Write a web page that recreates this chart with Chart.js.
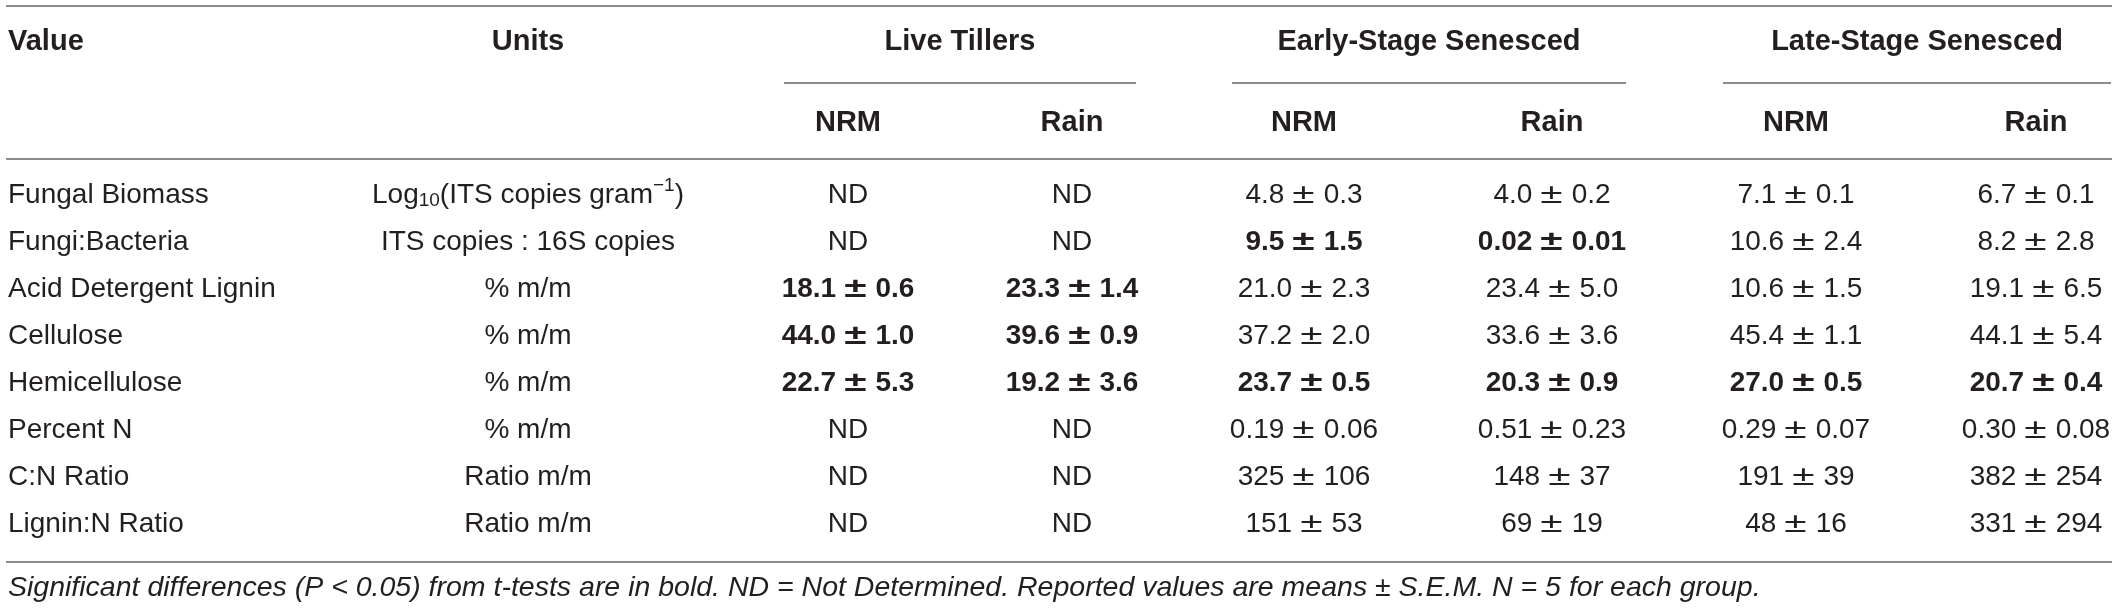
<!DOCTYPE html>
<html>
<head>
<meta charset="utf-8">
<script src="https://cdn.jsdelivr.net/npm/chart.js@4.4.1/dist/chart.umd.min.js"></script>
<style>
html, body { margin: 0; padding: 0; background: #ffffff; }
canvas { display: block; }
</style>
</head>
<body>
<canvas id="myChart" width="2118" height="609"></canvas>
<script>
// table data
var valueNames = ['Fungal Biomass', 'Fungi:Bacteria', 'Acid Detergent Lignin', 'Cellulose', 'Hemicellulose', 'Percent N', 'C:N Ratio', 'Lignin:N Ratio'];
var units = ['log10', 'ITS copies : 16S copies', '% m/m', '% m/m', '% m/m', '% m/m', 'Ratio m/m', 'Ratio m/m'];
var groups = ['Live Tillers', 'Early-Stage Senesced', 'Late-Stage Senesced'];
var treatments = ['NRM', 'Rain'];
var rowDigits = [1, 1, 1, 1, 1, 2, 0, 0];

var liveNrmMean = [null, null, 18.1, 44.0, 22.7, null, null, null];
var liveNrmSem = [null, null, 0.6, 1.0, 5.3, null, null, null];
var liveRainMean = [null, null, 23.3, 39.6, 19.2, null, null, null];
var liveRainSem = [null, null, 1.4, 0.9, 3.6, null, null, null];
var earlyNrmMean = [4.8, 9.5, 21.0, 37.2, 23.7, 0.19, 325, 151];
var earlyNrmSem = [0.3, 1.5, 2.3, 2.0, 0.5, 0.06, 106, 53];
var earlyRainMean = [4.0, 0.02, 23.4, 33.6, 20.3, 0.51, 148, 69];
var earlyRainSem = [0.2, 0.01, 5.0, 3.6, 0.9, 0.23, 37, 19];
var lateNrmMean = [7.1, 10.6, 10.6, 45.4, 27.0, 0.29, 191, 48];
var lateNrmSem = [0.1, 2.4, 1.5, 1.1, 0.5, 0.07, 39, 16];
var lateRainMean = [6.7, 8.2, 19.1, 44.1, 20.7, 0.30, 382, 331];
var lateRainSem = [0.1, 2.8, 6.5, 5.4, 0.4, 0.08, 254, 294];

// 1 = significant (bold)
var sigLive = [0, 0, 1, 1, 1, 0, 0, 0];
var sigEarly = [0, 1, 0, 0, 1, 0, 0, 0];
var sigLate = [0, 0, 0, 0, 1, 0, 0, 0];

var footnote = 'Significant differences (P < 0.05) from t-tests are in bold. ND = Not Determined. Reported values are means \u00b1 S.E.M. N = 5 for each group.';

// layout (pixels)
var colX = [848, 1072, 1304, 1552, 1796, 2036];
var valueX = 8;
var unitsX = 528;
var groupX = [960, 1429, 1917];
var groupHalf = [176, 197, 194];
var FONT = '"Liberation Sans", Arial, Helvetica, sans-serif';
var TEXT = '#231f20';
var RULE = '#8c8c8c';

function fmt(v, d) {
    var s = v.toFixed(d);
    while (parseFloat(s) === 0 && v !== 0 && d < 4) {
        d++;
        s = v.toFixed(d);
    }
    return s;
}

function makeColumn(label, means, sems, sig, x) {
    return {
        label: label,
        data: valueNames.map(function (name, i) {
            var m = means[i];
            return {
                x: x,
                y: name,
                mean: m === null ? null : fmt(m, rowDigits[i]),
                sem: m === null ? null : fmt(sems[i], rowDigits[i]),
                bold: !!sig[i]
            };
        }),
        pointRadius: 0,
        pointHoverRadius: 0
    };
}

var columns = [
    makeColumn('Live NRM', liveNrmMean, liveNrmSem, sigLive, colX[0]),
    makeColumn('Live Rain', liveRainMean, liveRainSem, sigLive, colX[1]),
    makeColumn('Early NRM', earlyNrmMean, earlyNrmSem, sigEarly, colX[2]),
    makeColumn('Early Rain', earlyRainMean, earlyRainSem, sigEarly, colX[3]),
    makeColumn('Late NRM', lateNrmMean, lateNrmSem, sigLate, colX[4]),
    makeColumn('Late Rain', lateRainMean, lateRainSem, sigLate, colX[5])
];

function rule(ctx, x1, x2, y) {
    ctx.beginPath();
    ctx.moveTo(x1, y);
    ctx.lineTo(x2, y);
    ctx.stroke();
}

// mean ± sem, centred at x, with a wide plus-minus sign
function drawCell(ctx, cell, x, y) {
    ctx.font = (cell.bold ? 'bold ' : '') + '28px ' + FONT;
    if (cell.mean === null) {
        ctx.textAlign = 'center';
        ctx.fillText('ND', x, y);
        return;
    }
    var stretch = 1.45, gapL = 8, gapR = 9;
    var mw = ctx.measureText(cell.mean).width;
    var sw = ctx.measureText(cell.sem).width;
    var pw = ctx.measureText('\u00b1').width * stretch;
    var left = x - (mw + gapL + pw + gapR + sw) / 2;
    ctx.textAlign = 'left';
    ctx.fillText(cell.mean, left, y);
    ctx.save();
    ctx.translate(left + mw + gapL, y);
    ctx.scale(stretch, 1);
    ctx.fillText('\u00b1', 0, 0);
    ctx.restore();
    ctx.fillText(cell.sem, left + mw + gapL + pw + gapR, y);
}

// draws "Log10(ITS copies gram-1)" with sub/superscript, centred at x
function drawLogUnit(ctx, x, y) {
    var parts = [
        { t: 'Log', f: '28px ' + FONT, dy: 0 },
        { t: '10', f: '19px ' + FONT, dy: 6 },
        { t: '(ITS copies gram', f: '28px ' + FONT, dy: 0 },
        { t: '\u22121', f: '19px ' + FONT, dy: -9 },
        { t: ')', f: '28px ' + FONT, dy: 0 }
    ];
    var w = 0;
    parts.forEach(function (p) { ctx.font = p.f; p.w = ctx.measureText(p.t).width; w += p.w; });
    var cx = x - w / 2;
    ctx.textAlign = 'left';
    parts.forEach(function (p) {
        ctx.font = p.f;
        ctx.fillText(p.t, cx, y + p.dy);
        cx += p.w;
    });
}

var tablePlugin = {
    id: 'tableText',
    afterDatasetsDraw: function (chart) {
        var ctx = chart.ctx;
        var yScale = chart.scales.y;
        ctx.save();
        ctx.fillStyle = TEXT;
        ctx.textBaseline = 'middle';

        // rules
        ctx.strokeStyle = RULE;
        ctx.lineWidth = 2;
        rule(ctx, 6, 2112, 6);
        rule(ctx, 6, 2112, 159);
        rule(ctx, 6, 2112, 562);
        groupX.forEach(function (gx, g) {
            rule(ctx, gx - groupHalf[g], gx + groupHalf[g], 83);
        });

        // header
        ctx.font = 'bold 29px ' + FONT;
        ctx.textAlign = 'left';
        ctx.fillText('Value', valueX, 42);
        ctx.textAlign = 'center';
        ctx.fillText('Units', unitsX, 42);
        groups.forEach(function (g, k) {
            ctx.fillText(g, groupX[k], 42);
        });
        colX.forEach(function (cx, k) {
            ctx.fillText(treatments[k % 2], cx, 123);
        });

        // value and units columns
        valueNames.forEach(function (name, i) {
            var y = yScale.getPixelForValue(i);
            ctx.font = '28px ' + FONT;
            ctx.textAlign = 'left';
            ctx.fillText(name, valueX, y);
            if (units[i] === 'log10') {
                drawLogUnit(ctx, unitsX, y);
            } else {
                ctx.textAlign = 'center';
                ctx.fillText(units[i], unitsX, y);
            }
        });

        // data cells from dataset points
        chart.data.datasets.forEach(function (ds, d) {
            var meta = chart.getDatasetMeta(d);
            meta.data.forEach(function (pt, i) {
                drawCell(ctx, ds.data[i], pt.x, pt.y);
            });
        });

        // footnote
        ctx.font = 'italic 28.5px ' + FONT;
        ctx.textAlign = 'left';
        ctx.fillText(footnote, valueX, 588);
        ctx.restore();
    }
};

var ctx = document.getElementById('myChart').getContext('2d');
var myChart = new Chart(ctx, {
    type: 'scatter',
    data: { datasets: columns },
    options: {
        responsive: false,
        animation: false,
        devicePixelRatio: 1,
        layout: {
            padding: { top: 171.5, bottom: 61.5, left: 0, right: 0 }
        },
        plugins: {
            legend: { display: false },
            tooltip: { enabled: false }
        },
        scales: {
            x: { type: 'linear', min: 0, max: 2118, display: false },
            y: { type: 'category', labels: valueNames, offset: true, display: false }
        }
    },
    plugins: [tablePlugin]
});
</script>
</body>
</html>
